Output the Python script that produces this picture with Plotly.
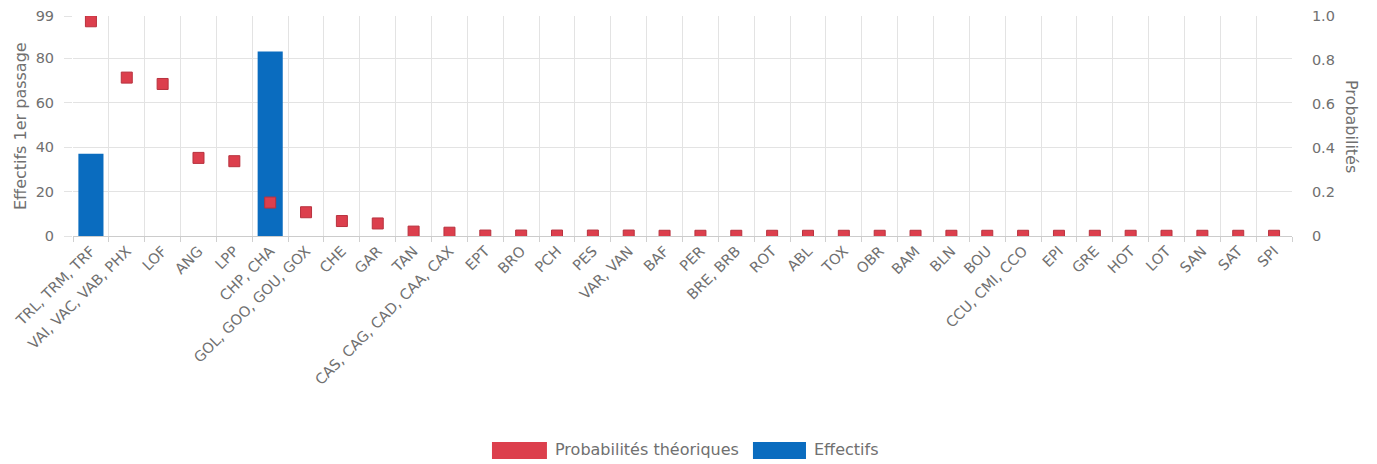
import plotly.graph_objects as go

categories = ["TRL, TRM, TRF", "VAI, VAC, VAB, PHX", "LOF", "ANG", "LPP", "CHP, CHA",
              "GOL, GOO, GOU, GOX", "CHE", "GAR", "TAN", "CAS, CAG, CAD, CAA, CAX", "EPT",
              "BRO", "PCH", "PES", "VAR, VAN", "BAF", "PER", "BRE, BRB", "ROT", "ABL", "TOX",
              "OBR", "BAM", "BLN", "BOU", "CCU, CMI, CCO", "EPI", "GRE", "HOT", "LOT", "SAN",
              "SAT", "SPI"]
effectifs = [37, 0, 0, 0, 0, 83, 0, 0, 0, 0, 0, 0, 0, 0, 0, 0, 0, 0, 0, 0, 0, 0, 0, 0,
             0, 0, 0, 0, 0, 0, 0, 0, 0, 0]
probabilites = [0.976, 0.72, 0.691, 0.355, 0.34, 0.152, 0.108, 0.068, 0.057, 0.02, 0.015,
                0.002, 0.002, 0.002, 0.002, 0.002, 0.001, 0.001, 0.001, 0.001, 0.001, 0.001,
                0.001, 0.001, 0.001, 0.001, 0.001, 0.001, 0.001, 0.001, 0.001, 0.001,
                0.001, 0.001]
left_ticks = [0, 20, 40, 60, 80, 99]
right_ticks = [0, 0.2, 0.4, 0.6, 0.8, 1.0]
right_ticktext = ["0", "0.2", "0.4", "0.6", "0.8", "1.0"]

FONT = "DejaVu Sans"
grey = "#707070"
red = "#dc3f4d"
blue = "#0a6cbf"

fig = go.Figure()
fig.add_trace(go.Bar(x=categories, y=effectifs, name="Effectifs", marker_color=blue,
                     marker_line_width=0, yaxis="y", showlegend=False))
fig.add_trace(go.Scatter(x=categories, y=probabilites, name="Probabilités théoriques",
                         mode="markers", yaxis="y2", showlegend=False,
                         marker=dict(symbol="square", size=11, color=red,
                                     line=dict(color="#b8323e", width=1))))

# manual legend (wide colour swatches like the reference)
legend_items = [("Probabilités théoriques", red, 0.3437, 0.3888),
                ("Effectifs", blue, 0.5578, 0.6013)]
shapes = []
annotations = []
for label, col, x0, x1 in legend_items:
    shapes.append(dict(type="rect", xref="paper", yref="paper", x0=x0, x1=x1,
                       y0=-1.0136, y1=-0.9364, fillcolor=col, line=dict(width=0)))
    annotations.append(dict(text=label, xref="paper", yref="paper", x=x1, xshift=6,
                            y=-0.9727, xanchor="left", yanchor="middle", showarrow=False,
                            font=dict(family=FONT, size=16, color=grey)))
annotations.append(dict(text="Probabilités", textangle=90, xref="paper", yref="paper",
                        x=1.0, y=0.5, xshift=60, xanchor="center", showarrow=False,
                        font=dict(family=FONT, size=16, color=grey)))
annotations.append(dict(text="Effectifs 1er passage", textangle=-90, xref="paper",
                        yref="paper", x=0.0, y=0.5, xshift=-53, xanchor="center",
                        showarrow=False, font=dict(family=FONT, size=16, color=grey)))

fig.update_layout(
    width=1369, height=456,
    margin=dict(l=65, r=85, t=8, b=228),
    plot_bgcolor="white", paper_bgcolor="white",
    font=dict(family=FONT, size=13, color=grey),
    bargap=0.3,
    showlegend=False,
    xaxis=dict(type="category", range=[-0.5, len(categories) - 0.5], tickangle=-45,
               tickson="boundaries", showgrid=True,
               gridcolor="#e3e3e3", ticks="outside", ticklen=5, tickcolor="#d0d0d0",
               showline=True, linecolor="#cccccc", automargin=False,
               tickfont=dict(family=FONT, size=14.5, color=grey)),
    yaxis=dict(range=[0, 99], tickvals=left_ticks, showgrid=True, gridcolor="#e3e3e3",
               zeroline=False, automargin=False, ticks="outside", ticklen=8,
               tickcolor="#e3e3e3", ticklabelstandoff=7,
               tickfont=dict(family=FONT, size=14.5, color=grey)),
    yaxis2=dict(range=[0, 1], overlaying="y", side="right", tickvals=right_ticks,
                ticktext=right_ticktext, showgrid=False, zeroline=False, automargin=False,
                ticks="outside", ticklen=8, tickcolor="rgba(0,0,0,0)",
                ticklabelstandoff=8,
                tickfont=dict(family=FONT, size=14.5, color=grey)),
    shapes=shapes,
    annotations=annotations,
)
fig.write_html("out.html")
